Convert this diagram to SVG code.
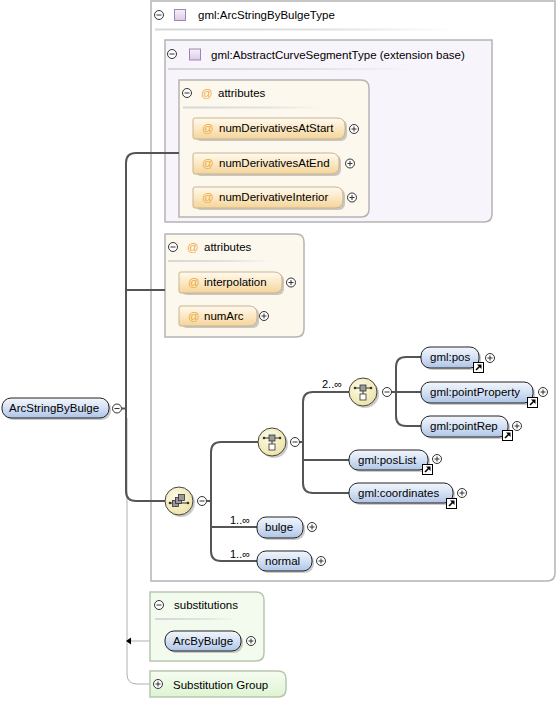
<svg xmlns="http://www.w3.org/2000/svg" xmlns:xlink="http://www.w3.org/1999/xlink" width="558" height="701" viewBox="0 0 558 701">
<style>
text{font-family:"Liberation Sans",Arial,sans-serif;font-size:11.5px;fill:#000}
.lbl{font-size:11px}
.at{fill:#f0a838}
.box{stroke:#b4b4b4;stroke-width:1.5}
.conn{fill:none;stroke:#555;stroke-width:2}
.gline{fill:none;stroke:#b0b0b0;stroke-width:1}
.epill{fill:url(#blueGrad);stroke:#222;stroke-width:1}
.apill{fill:url(#attrGrad);stroke:#c9b48e;stroke-width:1}
.shadow{fill:#8c8c8c;opacity:0.45}
.comp{fill:url(#yelGrad);stroke:#444;stroke-width:1}
.sep{fill:url(#sepGrad)}
</style>
<defs>
<linearGradient id="blueGrad" x1="0" y1="0" x2="0" y2="1">
<stop offset="0" stop-color="#f2f6fc"/><stop offset="0.5" stop-color="#d4e1f4"/><stop offset="1" stop-color="#aec4e6"/>
</linearGradient>
<linearGradient id="attrGrad" x1="0" y1="0" x2="0" y2="1">
<stop offset="0" stop-color="#fffaf0"/><stop offset="0.5" stop-color="#fbe8c4"/><stop offset="1" stop-color="#f4d49a"/>
</linearGradient>
<radialGradient id="yelGrad" cx="0.4" cy="0.35" r="0.7">
<stop offset="0" stop-color="#fdfbe6"/><stop offset="1" stop-color="#ece2a4"/>
</radialGradient>
<linearGradient id="purGrad" x1="0" y1="0" x2="0" y2="1">
<stop offset="0" stop-color="#f7f1fa"/><stop offset="1" stop-color="#dccbe6"/>
</linearGradient>
<linearGradient id="sepGrad" x1="0" y1="0" x2="1" y2="0">
<stop offset="0" stop-color="#d6d6d6"/><stop offset="0.6" stop-color="#e2e2e2"/><stop offset="1" stop-color="#e2e2e2" stop-opacity="0"/>
</linearGradient>
<linearGradient id="sgGrad" x1="0" y1="0" x2="0" y2="1">
<stop offset="0" stop-color="#f6fdf2"/><stop offset="1" stop-color="#def4d2"/>
</linearGradient>
<g id="minus"><circle r="4.5" fill="#fff" stroke="#333" stroke-width="1"/><line x1="-2.5" y1="0" x2="2.5" y2="0" stroke="#333" stroke-width="1"/></g>
<g id="plus"><circle r="4.5" fill="#fff" stroke="#333" stroke-width="1"/><line x1="-2.5" y1="0" x2="2.5" y2="0" stroke="#333" stroke-width="1"/><line x1="0" y1="-2.5" x2="0" y2="2.5" stroke="#333" stroke-width="1"/></g>
<g id="link"><rect x="0.5" y="0.5" width="10" height="10" fill="#fff" stroke="#000" stroke-width="1"/><path d="M3,8 L7,4" stroke="#000" stroke-width="1.6"/><polygon points="4,2.5 8.5,2.5 8.5,7" fill="#000"/></g>
<g id="seqGlyph">
<line x1="-9" y1="2" x2="9" y2="2" stroke="#333" stroke-width="1"/>
<circle cx="-9" cy="2" r="1.3" fill="#333"/><circle cx="9" cy="2" r="1.3" fill="#333"/>
<rect x="-6.5" y="-0.5" width="6" height="6" fill="#9a9a9a" stroke="#333" stroke-width="0.8"/>
<rect x="-3.5" y="-3.5" width="6" height="6" fill="#9a9a9a" stroke="#333" stroke-width="0.8"/>
<rect x="-0.5" y="-6.5" width="6" height="6" fill="#9a9a9a" stroke="#333" stroke-width="0.8"/>
</g>
<g id="choGlyph">
<line x1="-8" y1="-4" x2="8" y2="-4" stroke="#333" stroke-width="1"/>
<circle cx="-8" cy="-4" r="1.3" fill="#333"/><circle cx="8" cy="-4" r="1.3" fill="#333"/>
<rect x="-3" y="-7" width="6" height="6" fill="#9a9a9a" stroke="#333" stroke-width="0.8"/>
<line x1="0" y1="-1" x2="0" y2="2" stroke="#333" stroke-width="1"/>
<rect x="-3" y="2" width="6" height="6" fill="#fff" stroke="#333" stroke-width="0.8"/>
</g>
</defs>

<g id="ArcStringByBulgeType">
<path class="box" d="M151,1 H555 V573 Q555,581 547,581 H151 Z" fill="#fff"/>
<use href="#minus" x="159" y="15"/>
<rect x="174.5" y="9.5" width="11" height="11" fill="url(#purGrad)" stroke="#a185b0" stroke-width="1"/>
<text x="198" y="19">gml:ArcStringByBulgeType</text>
<rect class="sep" x="155" y="28.5" width="300" height="2"/>
</g>

<g id="AbstractCurveSegmentType">
<path class="box" d="M165,40 H492 V214 Q492,222 484,222 H165 Z" fill="#f8f4fb"/>
<use href="#minus" x="172" y="54"/>
<rect x="189.5" y="49" width="11" height="11" fill="url(#purGrad)" stroke="#a185b0" stroke-width="1"/>
<text x="211" y="59">gml:AbstractCurveSegmentType (extension base)</text>
<rect class="sep" x="168" y="68" width="244" height="2"/>
</g>

<g id="attributes1">
<path class="box" d="M179,80 H361 Q369,80 369,88 V209 Q369,217 361,217 H179 Z" fill="#fdf8ee"/>
<use href="#minus" x="187" y="93"/>
<text class="at" x="201" y="97">@</text>
<text x="218" y="97">attributes</text>
<rect class="sep" x="183" y="106.5" width="140" height="2"/>
</g>

<g id="numDerivativesAtStart">
<rect class="shadow" x="195" y="120" width="152" height="21" rx="6"/>
<path class="apill" d="M195,118 H337 Q345,118 345,126 V131 Q345,139 337,139 H195 Q193,139 193,137 V120 Q193,118 195,118 Z"/>
<text class="at" x="202" y="132">@</text>
<text x="219" y="132">numDerivativesAtStart</text>
<use href="#plus" x="354" y="129"/>
</g>

<g id="numDerivativesAtEnd">
<rect class="shadow" x="195" y="155" width="146" height="21" rx="6"/>
<path class="apill" d="M195,153 H331 Q339,153 339,161 V166 Q339,174 331,174 H195 Q193,174 193,172 V155 Q193,153 195,153 Z"/>
<text class="at" x="202" y="167">@</text>
<text x="219" y="167">numDerivativesAtEnd</text>
<use href="#plus" x="350" y="163.5"/>
</g>

<g id="numDerivativeInterior">
<rect class="shadow" x="195" y="189" width="150" height="21" rx="6"/>
<path class="apill" d="M195,187 H335 Q343,187 343,195 V200 Q343,208 335,208 H195 Q193,208 193,206 V189 Q193,187 195,187 Z"/>
<text class="at" x="202" y="201">@</text>
<text x="219" y="201">numDerivativeInterior</text>
<use href="#plus" x="352" y="197.5"/>
</g>

<g id="attributes2">
<path class="box" d="M165,234 H296 Q304,234 304,242 V329 Q304,337 296,337 H165 Z" fill="#fdf8ee"/>
<use href="#minus" x="173" y="247"/>
<text class="at" x="187" y="251">@</text>
<text x="204" y="251">attributes</text>
<rect class="sep" x="168" y="260" width="103" height="2"/>
</g>

<g id="interpolation">
<rect class="shadow" x="181" y="274" width="103" height="21" rx="6"/>
<path class="apill" d="M181,272 H274 Q282,272 282,280 V285 Q282,293 274,293 H181 Q179,293 179,291 V274 Q179,272 181,272 Z"/>
<text class="at" x="188" y="286">@</text>
<text x="204" y="286">interpolation</text>
<use href="#plus" x="291" y="282.5"/>
</g>

<g id="numArc">
<rect class="shadow" x="181" y="308" width="78" height="20" rx="6"/>
<path class="apill" d="M181,306 H249 Q257,306 257,314 V318 Q257,326 249,326 H181 Q179,326 179,324 V308 Q179,306 181,306 Z"/>
<text class="at" x="188" y="320">@</text>
<text x="204" y="320">numArc</text>
<use href="#plus" x="264" y="316"/>
</g>

<g id="connectors">
<path class="gline" d="M127,418 V674 Q127,684 137,684 H150"/>
<path class="gline" d="M165,641 H130"/>
<polygon points="126,641 131,637.5 131,644.5" fill="#000"/>
<path class="conn" d="M121.5,408.5 H126"/>
<path class="conn" d="M179,153 H136 Q126,153 126,163 V491 Q126,501 136,501 H165"/>
<path class="conn" d="M126,290 H165"/>
<path class="conn" d="M206.5,501 H211"/>
<path class="conn" d="M258,442 H221 Q211,442 211,452 V551 Q211,561 221,561 H257"/>
<path class="conn" d="M211,527 H257"/>
<path class="conn" d="M299.5,442 H303"/>
<path class="conn" d="M349,392 H313 Q303,392 303,402 V483 Q303,493 313,493 H349"/>
<path class="conn" d="M303,460 H349"/>
<path class="conn" d="M391.5,392 H396"/>
<path class="conn" d="M421,357 H406 Q396,357 396,367 V416 Q396,426 406,426 H421"/>
<path class="conn" d="M396,392 H421"/>
</g>

<g id="ArcStringByBulge">
<rect class="shadow" x="4" y="400" width="107" height="20" rx="9"/>
<rect class="epill" x="2" y="398" width="107" height="20" rx="9"/>
<text x="9" y="412">ArcStringByBulge</text>
<use href="#minus" x="117" y="408.5"/>
</g>

<g id="sequence">
<circle class="shadow" cx="181" cy="503" r="14"/>
<circle class="comp" cx="179" cy="501" r="14"/>
<use href="#seqGlyph" x="179" y="501"/>
<use href="#minus" x="202" y="501"/>
</g>

<g id="choice1">
<circle class="shadow" cx="274" cy="444" r="14"/>
<circle class="comp" cx="272" cy="442" r="14"/>
<use href="#choGlyph" x="272" y="442"/>
<use href="#minus" x="295" y="442"/>
</g>

<g id="choice2">
<text class="lbl" x="322" y="388">2..∞</text>
<circle class="shadow" cx="365" cy="394" r="14"/>
<circle class="comp" cx="363" cy="392" r="14"/>
<use href="#choGlyph" x="363" y="392"/>
<use href="#minus" x="387" y="392"/>
</g>

<g id="gml-pos">
<rect class="shadow" x="423" y="349" width="58" height="21" rx="9"/>
<rect class="epill" x="421" y="347" width="58" height="21" rx="9"/>
<text x="430" y="361">gml:pos</text>
<use href="#link" x="473" y="362"/>
<use href="#plus" x="490" y="358"/>
</g>

<g id="gml-pointProperty">
<rect class="shadow" x="423" y="384" width="112" height="21" rx="9"/>
<rect class="epill" x="421" y="382" width="112" height="21" rx="9"/>
<text x="430" y="396">gml:pointProperty</text>
<use href="#link" x="527" y="397"/>
<use href="#plus" x="543" y="392"/>
</g>

<g id="gml-pointRep">
<rect class="shadow" x="423" y="418" width="87" height="21" rx="9"/>
<rect class="epill" x="421" y="416" width="87" height="21" rx="9"/>
<text x="430" y="430">gml:pointRep</text>
<use href="#link" x="502" y="430"/>
<use href="#plus" x="517" y="426"/>
</g>

<g id="gml-posList">
<rect class="shadow" x="351" y="452" width="79" height="20" rx="9"/>
<rect class="epill" x="349" y="450" width="79" height="20" rx="9"/>
<text x="358" y="464">gml:posList</text>
<use href="#link" x="422" y="464"/>
<use href="#plus" x="437" y="459"/>
</g>

<g id="gml-coordinates">
<rect class="shadow" x="351" y="485" width="104" height="20" rx="9"/>
<rect class="epill" x="349" y="483" width="104" height="20" rx="9"/>
<text x="358" y="497">gml:coordinates</text>
<use href="#link" x="446" y="498"/>
<use href="#plus" x="462" y="493"/>
</g>

<g id="bulge">
<text class="lbl" x="230" y="524">1..∞</text>
<rect class="shadow" x="259" y="519" width="46" height="21" rx="9"/>
<rect class="epill" x="257" y="517" width="46" height="21" rx="9"/>
<text x="265" y="531">bulge</text>
<use href="#plus" x="312" y="527"/>
</g>

<g id="normal">
<text class="lbl" x="230" y="558">1..∞</text>
<rect class="shadow" x="259" y="553" width="55" height="20" rx="9"/>
<rect class="epill" x="257" y="551" width="55" height="20" rx="9"/>
<text x="265" y="565">normal</text>
<use href="#plus" x="321" y="561"/>
</g>

<g id="substitutions">
<path d="M150,592 H256 Q264,592 264,600 V653 Q264,661 256,661 H150 Z" fill="#f2fbee" stroke="#b8c6b0" stroke-width="1.5"/>
<use href="#minus" x="159" y="605"/>
<text x="174" y="609">substitutions</text>
<rect class="sep" x="155" y="618" width="82" height="2"/>
</g>

<g id="ArcByBulge">
<rect class="shadow" x="167" y="633" width="76" height="20" rx="9"/>
<rect class="epill" x="165" y="631" width="76" height="20" rx="9"/>
<text x="173" y="645">ArcByBulge</text>
<use href="#plus" x="251" y="641"/>
</g>

<g id="SubstitutionGroup">
<path d="M150,671 H278 Q286,671 286,679 V689 Q286,697 278,697 H150 Z" fill="url(#sgGrad)" stroke="#b8c6b0" stroke-width="1.5"/>
<use href="#plus" x="158" y="684"/>
<text x="173" y="689">Substitution Group</text>
</g>
</svg>
